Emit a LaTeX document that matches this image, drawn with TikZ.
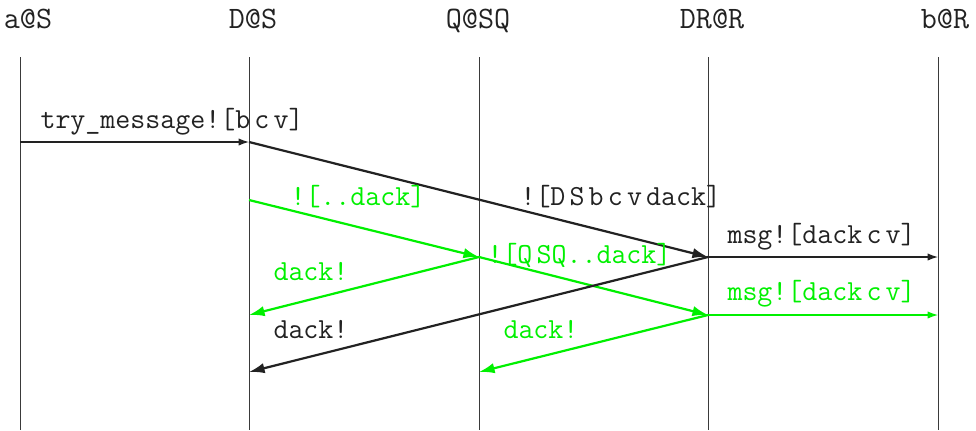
\documentclass[tikz,border=0pt]{standalone}
\usetikzlibrary{arrows.meta}
\definecolor{ink}{HTML}{222222}
\definecolor{lifec}{HTML}{3A3A3A}
\definecolor{grn}{HTML}{00F000}
\begin{document}
\begin{tikzpicture}[x=0.385pt,y=-0.385pt,
  txt/.style={inner sep=0pt, font=\fontsize{11.2}{13}\selectfont\ttfamily},
  lbl/.style={txt, anchor=base west},
  head/.style={inner sep=0pt, anchor=base, text=ink, font=\fontsize{12}{14}\selectfont\ttfamily},
  life/.style={draw=lifec, line width=0.35pt},
  hmsg/.style={line width=0.45pt, -{Latex[length=4pt,width=2.8pt]}},
  dmsg/.style={line width=0.85pt, -{Latex[length=6pt,width=4pt]}},
]
\useasboundingbox (0,0) rectangle (976,430);
% headers
\node[head] (hA) at (28,28) {a@S};
\node[head] (hB) at (253,28) {D@S};
\node[head] (hC) at (478,28) {Q@SQ};
\node[head] (hD) at (712,28) {DR@R};
\node[head] (hE) at (945,28) {b@R};
% lifelines
\foreach \n/\x in {A/20,B/249,C/479,D/708,E/938}{
  \coordinate (t\n) at (\x,57);
  \coordinate (b\n) at (\x,430);
  \draw[life] (t\n) -- (b\n);
}
% event points
\coordinate (a1) at (20,142);
\coordinate (d1) at (249,142);
\coordinate (d2) at (249,200);
\coordinate (d3) at (249,315);
\coordinate (d4) at (249,372);
\coordinate (q1) at (479,257);
\coordinate (q2) at (479,372);
\coordinate (r1) at (708,257);
\coordinate (r2) at (708,315);
\coordinate (e1) at (938,257);
\coordinate (e2) at (938,315);
% messages
\draw[hmsg, ink] (a1) -- (d1);
\draw[dmsg, ink] (d1) -- (r1);
\draw[dmsg, grn] (d2) -- (q1);
\draw[dmsg, grn] (q1) -- (r2);
\draw[dmsg, grn] (q1) -- (d3);
\draw[dmsg, ink] (r1) -- (d4);
\draw[dmsg, grn] (r2) -- (q2);
\draw[hmsg, ink] (r1) -- (e1);
\draw[hmsg, grn] (r2) -- (e2);
% labels
\node[lbl, text=ink] (l1) at (40,128) {try\_message![b\kern1.6pt c\kern1.6pt v]};
\node[lbl, text=grn] (l2) at (290,205) {![..dack]};
\node[lbl, text=ink] (l3) at (520,205) {![D\kern1.6pt S\kern1.6pt b\kern1.6pt c\kern1.6pt v\kern1.6pt dack]};
\node[lbl, text=grn] (l4) at (487,263) {![Q\kern1.6pt SQ..dack]};
\node[lbl, text=grn] (l5) at (273,280) {dack!};
\node[lbl, text=ink] (l6) at (273,338) {dack!};
\node[lbl, text=grn] (l7) at (503,338) {dack!};
\node[lbl, text=ink] (l8) at (727,243) {msg![dack\kern1.6pt c\kern1.6pt v]};
\node[lbl, text=grn] (l9) at (727,300) {msg![dack\kern1.6pt c\kern1.6pt v]};
\end{tikzpicture}
\end{document}
